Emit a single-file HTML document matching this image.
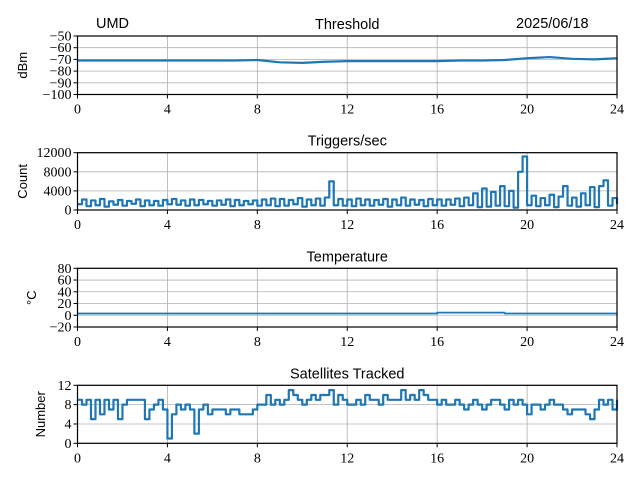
<!DOCTYPE html>
<html><head><meta charset="utf-8"><style>
body{margin:0;background:#fff}
svg text{font-family:"Liberation Serif","DejaVu Serif",serif;font-size:14px;fill:#000}
svg text.t{font-family:"Liberation Sans",sans-serif;font-size:14.5px}
</style></head><body>
<svg id="fig" width="640" height="480" xmlns="http://www.w3.org/2000/svg">
<text class="t" x="96" y="28">UMD</text>
<text class="t" x="516" y="28">2025/06/18</text>
</svg>
<script>
const hoursX=[0,4,8,12,16,20,24];
const thrTicks=[-50,-60,-70,-80,-90,-100];
const trigTicks=[0,4000,8000,12000];
const tempTicks=[-20,0,20,40,60,80];
const satTicks=[0,4,8,12];
const thrValues=[-71,-71,-71,-71,-71,-71,-71,-71,-70.5,-72.5,-73,-72,-71.5,-71.5,-71.5,-71.5,-71.5,-71,-71,-70.5,-69,-68,-69.5,-70,-69];
const tempValues=[3,3,3,3,3,3,3,3,3,3,3,3,3,3,3,3,4.5,4.5,4.5,3,3,3,3,3,3];
const trigValues=[1200,2200,800,2000,1000,2300,700,1800,1100,2100,900,1900,1300,2200,800,2000,1000,1900,900,2100,1200,
2300,1100,2000,900,2200,1000,2100,1200,1900,900,2000,1100,2200,800,2100,1000,1900,1200,2000,900,
2200,1000,2400,800,2300,900,2100,1200,2500,700,2200,1000,2400,900,2600,6000,1000,2300,900,2200,
800,2400,1000,2200,900,2100,1100,2300,700,2200,1000,2600,900,2200,1100,2100,800,2300,1000,2200,
900,2200,1100,2400,800,2600,1000,3500,600,4500,700,3800,900,5000,800,4000,500,8000,11200,1000,
3000,800,2500,1000,3200,600,2800,5000,900,2600,700,3500,1000,4800,600,5000,6200,900,2500,1200];
const satValues=[9,8,9,5,9,6,9,7,9,5,8,9,9,9,9,5,7,8,9,7,1,
6,8,7,8,7,2,7,8,6,7,7,7,6,7,7,6,6,6,7,8,
8,10,8,9,8,9,11,10,9,8,9,10,9,10,10,11,8,10,9,8,
8,9,8,10,9,9,8,10,9,9,9,11,9,10,9,11,10,9,9,8,
9,8,8,9,8,7,8,9,8,7,8,9,9,8,7,9,8,9,8,6,
8,8,7,8,9,8,8,7,6,7,7,7,6,5,7,9,8,9,7,9];

const svg=document.getElementById('fig');const NS='http://www.w3.org/2000/svg';
function mk(tag,attrs,parent){const e=document.createElementNS(NS,tag);for(const k in attrs)e.setAttribute(k,attrs[k]);(parent||svg).appendChild(e);return e;}
const X0=77.5,X1=617;
function xs(h){return X0+(h/24)*(X1-X0);}
function panel(name,top,bot,ymin,ymax,ticks,ylabel,title,vals,step,stepMode,lw){
  const g=mk('g',{});
  
  
  const ys=v=>bot-(v-ymin)/(ymax-ymin)*(bot-top);
  hoursX.forEach(h=>{const l=mk('line',{x1:xs(h),x2:xs(h),y1:top,y2:bot,stroke:'#b0b0b0','stroke-width':0.8},g);
    
    mk('line',{x1:xs(h),x2:xs(h),y1:bot,y2:bot+4,stroke:'#000'},g);
    const t=mk('text',{x:xs(h),y:bot+19,'text-anchor':'middle','font-family':'Liberation Serif, serif'},g);t.textContent=h;
    });
  ticks.forEach(v=>{const l=mk('line',{x1:X0,x2:X1,y1:ys(v),y2:ys(v),stroke:'#b0b0b0','stroke-width':0.8},g);
    
    mk('line',{x1:X0-4,x2:X0,y1:ys(v),y2:ys(v),stroke:'#000'},g);
    const t=mk('text',{x:X0-6,y:ys(v)+4.5,'text-anchor':'end','font-family':'Liberation Serif, serif'},g);t.textContent=(v<0?'\u2212'+(-v):v);
    });
  let d='';
  vals.forEach((v,i)=>{const x=xs(i*step),y=ys(v);
    if(i==0)d='M'+x+' '+y;else if(stepMode){d+=' H'+x+' V'+y;}else d+=' L'+x+' '+y;});
  const p=mk('path',{d:d,fill:'none',stroke:'#1f77b4','stroke-width':lw,'stroke-linejoin':'round'},g);
  
  const r=mk('rect',{x:X0,y:top,width:X1-X0,height:bot-top,fill:'none',stroke:'#000','stroke-width':1.2},g);
  
  const tt=mk('text',{x:(X0+X1)/2,y:top-7,'text-anchor':'middle',class:'t'},g);tt.textContent=title;
  
  const yl=mk('text',{x:0,y:0,'text-anchor':'middle',class:'t',transform:'translate('+(name==='temperature'?36:(name==='satellites'?45:27))+','+((top+bot)/2)+') rotate(-90)',style:'font-size:13px'},g);
  yl.textContent=ylabel;
  
}
panel('threshold',36,94.5,-100,-50,thrTicks,'dBm','Threshold',thrValues,1,false,2.2);
panel('triggers',152.7,210,0,12000,trigTicks,'Count','Triggers/sec',trigValues,0.2,true,2.2);
panel('temperature',268.3,327,-20,80,tempTicks,'\u00B0C','Temperature',tempValues,1,true,1.8);
panel('satellites',385.3,443.3,0,12,satTicks,'Number','Satellites Tracked',satValues,0.2,true,2.2);
</script>
</body></html>
